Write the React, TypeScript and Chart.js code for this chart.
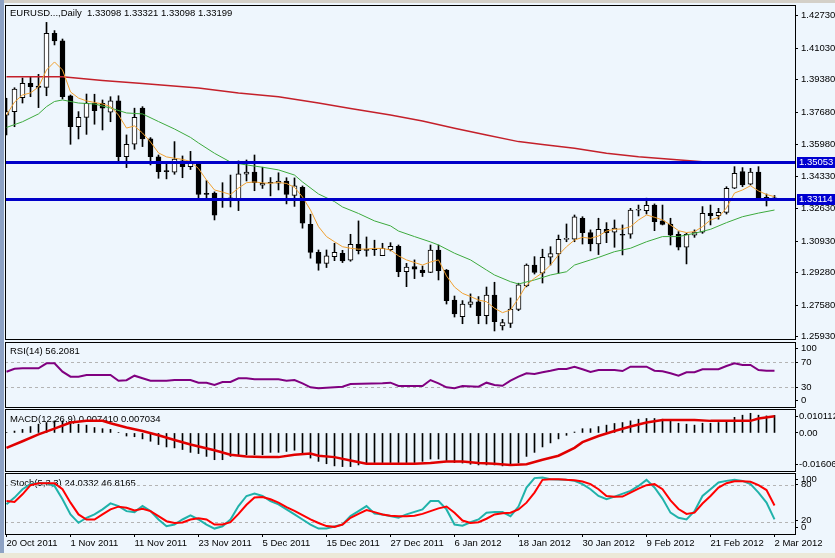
import React, { useEffect, useRef } from 'react';
import { Chart, registerables } from 'chart.js';

Chart.register(...registerables);

const FONT = '"Liberation Sans", Arial, sans-serif';
const FS = 9.5;
const BG = '#EEF6FD';

// ---------- categories / ticks ----------
const xTickIdx = [0, 8, 16, 24, 32, 40, 48, 56, 64, 72, 80, 88, 96];
const xLabels = ['20 Oct 2011', '1 Nov 2011', '11 Nov 2011', '23 Nov 2011', '5 Dec 2011', '15 Dec 2011', '27 Dec 2011', '6 Jan 2012', '18 Jan 2012', '30 Jan 2012', '9 Feb 2012', '21 Feb 2012', '2 Mar 2012'];
const priceTicks = [1.4273, 1.4103, 1.3938, 1.3768, 1.3598, 1.3433, 1.3263, 1.3093, 1.2928, 1.2758, 1.2593];
const rsiTickAt = [92.7, 70, 30, 7.9];
const rsiTickLabels = ['100', '70', '30', '0'];
const macdTickAt = [0.00686, 0, -0.01323];
const macdTickLabels = ['0.010112', '0.00', '-0.01606'];
const stochTickAt = [88.8, 81.7, 21.7, 11.2];
const stochTickLabels = ['100', '80', '20', '0'];

// ---------- price series (one value per daily bar) ----------
const opens = [1.3753, 1.3771, 1.3844, 1.3919, 1.3905, 1.3898, 1.4181, 1.4141, 1.3853, 1.3692, 1.3741, 1.3815, 1.3815, 1.3768, 1.3827, 1.3535, 1.3600, 1.3789, 1.3628, 1.3535, 1.3462, 1.3454, 1.3513, 1.3483, 1.3501, 1.3344, 1.3345, 1.3309, 1.3318, 1.3312, 1.3443, 1.3454, 1.3386, 1.3400, 1.3396, 1.3407, 1.3332, 1.3375, 1.3181, 1.3035, 1.2977, 1.3012, 1.3030, 1.2993, 1.3077, 1.3049, 1.3050, 1.3017, 1.3048, 1.3066, 1.2934, 1.2960, 1.2942, 1.2930, 1.3047, 1.2942, 1.2785, 1.2698, 1.2762, 1.2776, 1.2703, 1.2811, 1.2649, 1.2663, 1.2736, 1.2859, 1.2968, 1.2925, 1.3009, 1.3026, 1.3102, 1.3103, 1.3213, 1.3138, 1.3078, 1.3155, 1.3140, 1.3127, 1.3129, 1.3255, 1.3253, 1.3282, 1.3199, 1.3183, 1.3129, 1.3061, 1.3125, 1.3140, 1.3239, 1.3226, 1.3244, 1.3370, 1.3457, 1.3391, 1.3454, 1.3323, 1.33098];
const highs = [1.3841, 1.3896, 1.3947, 1.3954, 1.3966, 1.4238, 1.4195, 1.4151, 1.3858, 1.3771, 1.3863, 1.3862, 1.3832, 1.3849, 1.3854, 1.3649, 1.3789, 1.3797, 1.3635, 1.3544, 1.3509, 1.3614, 1.3539, 1.3563, 1.3504, 1.3410, 1.3351, 1.3399, 1.3439, 1.3513, 1.3518, 1.3544, 1.3480, 1.3426, 1.3451, 1.3425, 1.3424, 1.3382, 1.3234, 1.3047, 1.3047, 1.3082, 1.3045, 1.3129, 1.3199, 1.3115, 1.3098, 1.3082, 1.3085, 1.3073, 1.2977, 1.2995, 1.2963, 1.3073, 1.3073, 1.2945, 1.2806, 1.2782, 1.2817, 1.2803, 1.2853, 1.2878, 1.2684, 1.2796, 1.2873, 1.2974, 1.3012, 1.3051, 1.3064, 1.3125, 1.3183, 1.3230, 1.3221, 1.3152, 1.3213, 1.3190, 1.3204, 1.3178, 1.3265, 1.3282, 1.3318, 1.3288, 1.3282, 1.3213, 1.3143, 1.3134, 1.3152, 1.3274, 1.3282, 1.3265, 1.3378, 1.3483, 1.3478, 1.3474, 1.3483, 1.3340, 1.33321];
const lows = [1.3649, 1.3692, 1.3816, 1.3849, 1.3792, 1.3854, 1.4120, 1.3837, 1.3600, 1.3628, 1.3652, 1.3705, 1.3675, 1.3718, 1.3514, 1.3478, 1.3574, 1.3588, 1.3492, 1.3422, 1.3419, 1.3443, 1.3425, 1.3468, 1.3312, 1.3312, 1.3204, 1.3270, 1.3272, 1.3253, 1.3408, 1.3357, 1.3369, 1.3330, 1.3361, 1.3288, 1.3275, 1.3161, 1.3004, 1.2941, 1.2955, 1.2991, 1.2981, 1.2988, 1.3026, 1.3014, 1.3018, 1.3017, 1.3042, 1.2907, 1.2855, 1.2897, 1.2908, 1.2928, 1.2890, 1.2764, 1.2696, 1.2661, 1.2747, 1.2661, 1.2660, 1.2623, 1.2628, 1.2641, 1.2729, 1.2854, 1.2921, 1.2874, 1.2968, 1.2925, 1.3090, 1.3090, 1.3078, 1.3042, 1.3023, 1.3085, 1.3061, 1.3021, 1.3108, 1.3225, 1.3235, 1.3148, 1.3178, 1.3073, 1.3047, 1.2974, 1.3113, 1.3134, 1.3178, 1.3208, 1.3235, 1.3368, 1.3378, 1.3387, 1.3312, 1.3277, 1.33098];
const closes = [1.3771, 1.3889, 1.3919, 1.3902, 1.3898, 1.4181, 1.4141, 1.3849, 1.3692, 1.3741, 1.3815, 1.3776, 1.3789, 1.3827, 1.3535, 1.3600, 1.3741, 1.3628, 1.3535, 1.3457, 1.3457, 1.3523, 1.3483, 1.3501, 1.3338, 1.3338, 1.3229, 1.3318, 1.3314, 1.3445, 1.3454, 1.3399, 1.3396, 1.3396, 1.3408, 1.3338, 1.3382, 1.3187, 1.3034, 1.2977, 1.3016, 1.3035, 1.2989, 1.3077, 1.3043, 1.3045, 1.3048, 1.3056, 1.3066, 1.2933, 1.2958, 1.2946, 1.2928, 1.3047, 1.2939, 1.2782, 1.2712, 1.2764, 1.2775, 1.2703, 1.2811, 1.2672, 1.2667, 1.2737, 1.2864, 1.2968, 1.2930, 1.3009, 1.3028, 1.3103, 1.3105, 1.3220, 1.3138, 1.3078, 1.3155, 1.3138, 1.3161, 1.3124, 1.3256, 1.3258, 1.3281, 1.3195, 1.3181, 1.3125, 1.3061, 1.3129, 1.3140, 1.3239, 1.3226, 1.3244, 1.3370, 1.3448, 1.3387, 1.3454, 1.3314, 1.3309, 1.33199];

// orange fast MA, one value per bar
const maFast = [1.3753, 1.3821, 1.3858, 1.3869, 1.3900, 1.3989, 1.4031, 1.3989, 1.3874, 1.3842, 1.3827, 1.3819, 1.3811, 1.3798, 1.3753, 1.3685, 1.3696, 1.3659, 1.3612, 1.3555, 1.3534, 1.3527, 1.3521, 1.3510, 1.3473, 1.3413, 1.3361, 1.3350, 1.3337, 1.3371, 1.3399, 1.3403, 1.3398, 1.3396, 1.3400, 1.3395, 1.3375, 1.3324, 1.3256, 1.3169, 1.3117, 1.3090, 1.3064, 1.3056, 1.3051, 1.3052, 1.3055, 1.3055, 1.3047, 1.3016, 1.2995, 1.2981, 1.2968, 1.2984, 1.2995, 1.2911, 1.2853, 1.2820, 1.2803, 1.2785, 1.2776, 1.2742, 1.2719, 1.2733, 1.2794, 1.2864, 1.2899, 1.2928, 1.2968, 1.3021, 1.3064, 1.3099, 1.3113, 1.3108, 1.3120, 1.3146, 1.3155, 1.3157, 1.3169, 1.3204, 1.3230, 1.3218, 1.3204, 1.3178, 1.3148, 1.3138, 1.3143, 1.3169, 1.3204, 1.3218, 1.3267, 1.3345, 1.3361, 1.3383, 1.3356, 1.3337, 1.3326];

// green MA, read at [bar, value]
const maMid: [number, number][] = [[0, 1.3688], [2, 1.3718], [4, 1.3759], [5, 1.3797], [6, 1.3824], [7, 1.3832], [9, 1.3816], [11, 1.3811], [13, 1.3790], [15, 1.3764], [17, 1.3759], [19, 1.3719], [21, 1.3680], [23, 1.3636], [24, 1.3607], [26, 1.3553], [28, 1.3507], [30, 1.3492], [32, 1.3480], [34, 1.3466], [36, 1.3439], [37, 1.3403], [39, 1.3340], [41, 1.3300], [42, 1.3272], [44, 1.3238], [46, 1.3199], [48, 1.3173], [49, 1.3146], [51, 1.3117], [53, 1.3089], [54, 1.3073], [56, 1.3030], [58, 1.2995], [60, 1.2942], [61, 1.2916], [63, 1.2881], [64, 1.2869], [66, 1.2890], [68, 1.2916], [70, 1.2933], [71, 1.2968], [73, 1.2995], [74, 1.3008], [76, 1.3038], [78, 1.3056], [80, 1.3090], [82, 1.3117], [84, 1.3117], [86, 1.3134], [88, 1.3155], [90, 1.3190], [92, 1.3221], [94, 1.3240], [96, 1.3256]];

// red slow MA, read at [bar, value]
const maSlow: [number, number][] = [[0, 1.3954], [7, 1.3954], [12, 1.3934], [17, 1.3918], [24, 1.3895], [29, 1.3869], [34, 1.3849], [39, 1.3816], [43, 1.3787], [48, 1.3753], [52, 1.3722], [56, 1.3684], [60, 1.3649], [64, 1.3614], [67, 1.3599], [71, 1.3579], [75, 1.3553], [79, 1.3535], [83, 1.3522], [87, 1.3509], [90, 1.3506], [96, 1.3501]];

// horizontal levels
const levels = [1.35053, 1.33114];

// RSI(14), read at [bar, value]
const rsi: [number, number][] = [[0, 54.8], [1, 59.5], [2, 60.3], [4, 60.3], [5, 68.4], [6, 68.4], [7, 54.8], [8, 46.7], [9, 46.7], [10, 49.4], [13, 49.4], [14, 40.2], [15, 41], [16, 48.3], [17, 44.1], [18, 40.2], [20, 40.2], [21, 41.3], [23, 41.3], [24, 37], [25, 37], [26, 33.2], [27, 38.1], [28, 38.1], [29, 44.1], [30, 44.1], [31, 42.5], [34, 42.5], [35, 40.2], [36, 41.3], [37, 36], [38, 29.5], [39, 27.9], [40, 28.8], [42, 30.5], [43, 34.8], [47, 36], [48, 37], [49, 31.6], [52, 31.6], [53, 41.3], [54, 36], [55, 29.5], [56, 27.9], [57, 31.6], [59, 30.5], [60, 37], [61, 33.2], [62, 32], [63, 40.2], [64, 46.7], [65, 52.2], [66, 51.1], [67, 54], [68, 56.4], [69, 59.2], [70, 59.2], [71, 62.9], [72, 58.7], [73, 54.3], [74, 57.5], [76, 57.5], [77, 55.9], [78, 62.9], [80, 62.9], [81, 56.4], [82, 55.4], [83, 52.2], [84, 48.3], [85, 53.8], [86, 53.8], [87, 58.7], [89, 58.7], [90, 64], [91, 68.4], [92, 65.6], [93, 65.6], [94, 57.5], [95, 56.4], [96, 56.2081]];
const rsiLevels = [70, 30];

// MACD(12,26,9) histogram, one value per bar
const macdMain = [0.0002, 0.0008, 0.0015, 0.0027, 0.0037, 0.0044, 0.0051, 0.0051, 0.0047, 0.0037, 0.0033, 0.0023, 0.0018, 0.0015, 0.0002, -0.0013, -0.0016, -0.0025, -0.0035, -0.0049, -0.0059, -0.0063, -0.0070, -0.0082, -0.0087, -0.0099, -0.0113, -0.0113, -0.0099, -0.0096, -0.0092, -0.0092, -0.0092, -0.0082, -0.0082, -0.0078, -0.0073, -0.0087, -0.0106, -0.0120, -0.0130, -0.0139, -0.0142, -0.0142, -0.0135, -0.0127, -0.0125, -0.0125, -0.0125, -0.0125, -0.0125, -0.0125, -0.0120, -0.0110, -0.0110, -0.0116, -0.0125, -0.0127, -0.0132, -0.0135, -0.0135, -0.0135, -0.0139, -0.0135, -0.0127, -0.0099, -0.0082, -0.0059, -0.0042, -0.0025, -0.0010, 0.0004, 0.0018, 0.0018, 0.0027, 0.0033, 0.0040, 0.0044, 0.0051, 0.0058, 0.0061, 0.0061, 0.0058, 0.0051, 0.0041, 0.0037, 0.0033, 0.0041, 0.0041, 0.0044, 0.0051, 0.0066, 0.0075, 0.0083, 0.0075, 0.0072, 0.00741];
// MACD signal, read at [bar, value]
const macdSignal: [number, number][] = [[0, -0.0063], [2, -0.0035], [4, -0.0006], [6, 0.0018], [8, 0.0044], [10, 0.0051], [12, 0.0051], [13, 0.0041], [15, 0.0023], [17, 0.0008], [19, -0.0010], [21, -0.0030], [23, -0.0049], [26, -0.0073], [28, -0.0092], [30, -0.0099], [32, -0.0102], [34, -0.0102], [36, -0.0092], [38, -0.0087], [39, -0.0096], [41, -0.0102], [43, -0.0116], [45, -0.0130], [48, -0.0130], [51, -0.0130], [53, -0.0127], [55, -0.0120], [57, -0.0120], [59, -0.0127], [61, -0.0130], [63, -0.0135], [65, -0.0132], [67, -0.0113], [69, -0.0096], [71, -0.0063], [72, -0.0039], [74, -0.0013], [76, 0.0008], [78, 0.0027], [80, 0.0044], [82, 0.0055], [86, 0.0055], [88, 0.0051], [93, 0.0051], [94, 0.0061], [96, 0.007034]];

// Stochastic(5,3,3), read at [bar, value]
const stochMain: [number, number][] = [[0, 48.6], [1, 59.7], [2, 73.4], [3, 81.7], [4, 83.3], [5, 83.3], [6, 78.8], [7, 56.9], [8, 32.1], [9, 18.3], [10, 26.6], [11, 32.1], [12, 40.3], [13, 50.2], [14, 45.8], [15, 37.5], [16, 35.9], [17, 45.8], [18, 37.5], [19, 23.8], [20, 12.7], [21, 15.5], [22, 23.8], [23, 30.4], [24, 23.8], [25, 15.5], [26, 8.9], [27, 12.7], [28, 23.8], [29, 45.8], [30, 62.3], [31, 66.3], [32, 62.3], [33, 54], [34, 48.6], [35, 40.3], [36, 32.1], [37, 23.8], [38, 15.5], [39, 8.9], [40, 8.9], [42, 15.5], [43, 29.3], [44, 37.5], [45, 45.8], [46, 33.7], [47, 32.1], [49, 26.6], [50, 32.1], [52, 40.3], [53, 54], [54, 54], [55, 40.3], [56, 15.5], [57, 13.5], [58, 19.3], [59, 23.8], [60, 34.9], [61, 35.9], [62, 35.9], [63, 29.3], [64, 45], [65, 76.2], [66, 91.6], [67, 92.7], [68, 89.9], [70, 88.8], [71, 87.1], [72, 81.7], [73, 73.4], [74, 62.3], [75, 56.9], [76, 61.3], [78, 70.6], [79, 78.8], [80, 88.8], [81, 76.2], [82, 58], [83, 35], [84, 26.6], [85, 23.8], [86, 37.5], [87, 62.3], [88, 73.4], [89, 84.5], [90, 87.1], [91, 88.8], [92, 87.1], [93, 81.7], [94, 67.9], [95, 51.4], [96, 24.0332]];
const stochSignal: [number, number][] = [[0, 54], [1, 52.4], [2, 65.1], [3, 80], [4, 83.3], [5, 83.3], [6, 83.3], [7, 73.4], [8, 51.4], [9, 32.1], [10, 23.8], [11, 23.8], [12, 32.1], [13, 40.3], [14, 44.8], [15, 43.1], [16, 38.7], [17, 41.5], [18, 37.5], [19, 29.3], [20, 21], [21, 18], [22, 19], [23, 23.8], [24, 26], [25, 23.8], [26, 15.5], [27, 15.5], [28, 19.3], [29, 33], [30, 48], [31, 59.7], [32, 60.7], [33, 56.9], [34, 51.4], [35, 44], [36, 38], [37, 31], [38, 24], [39, 18], [40, 13], [41, 11.7], [42, 15.5], [43, 26.6], [44, 33], [45, 39.2], [46, 35.9], [47, 32], [48, 30], [49, 29.3], [50, 29.3], [51, 30], [52, 33], [53, 37.5], [54, 42], [55, 45], [56, 34.9], [57, 22], [58, 18], [59, 19.3], [60, 25], [61, 32.1], [62, 34], [63, 34.9], [64, 40.3], [65, 51.4], [66, 67.9], [67, 88.8], [68, 89.9], [69, 89.9], [70, 88.8], [71, 88], [72, 86], [73, 81.7], [74, 73.4], [75, 62.3], [76, 61], [77, 61.3], [78, 67.9], [79, 74.5], [80, 80], [81, 81.7], [82, 73.4], [83, 55], [84, 41], [85, 33], [86, 35], [87, 50], [88, 62.3], [89, 76], [90, 83.3], [91, 86.6], [92, 86.6], [93, 85.5], [94, 80], [95, 72], [96, 46.8165]];
const stochLevels = [80, 20];

// ---------- panel captions ----------
const mainTitle = 'EURUSD...,Daily  1.33098 1.33321 1.33098 1.33199';
const rsiTitle = 'RSI(14) 56.2081';
const macdTitle = 'MACD(12,26,9) 0.007410 0.007034';
const stochTitle = 'Stoch(5,3,3) 24.0332 46.8165';

// ---------- helpers ----------
const XMIN = -0.1875;
const XMAX = 98.5625;
const font = { family: FONT, size: FS };

const pairs = (arr: [number, number][]) => arr.map(([x, y]) => ({ x, y }));

function xAxis(show: boolean): any {
  return {
    type: 'linear',
    min: XMIN,
    max: XMAX,
    offset: false,
    display: show,
    afterBuildTicks: (s: any) => { s.ticks = xTickIdx.map((v) => ({ value: v })); },
    afterFit: (s: any) => { if (show) s.height = 19; s.paddingLeft = 0; s.paddingRight = 0; },
    ticks: { autoSkip: false, maxRotation: 0, minRotation: 0, align: 'start', padding: 1, color: '#000', font, callback: (_v: any, i: number) => xLabels[i] },
    grid: { drawOnChartArea: false, drawTicks: true, tickLength: 3, color: '#000' },
    border: { display: false },
  };
}

function yAxis(min: number, max: number, at: number[], label: (v: number, i: number) => string, pad = 3): any {
  return {
    type: 'linear',
    position: 'right',
    min,
    max,
    afterBuildTicks: (s: any) => { s.ticks = at.map((v) => ({ value: v })); },
    afterFit: (s: any) => { s.width = 40; s.paddingTop = 0; s.paddingBottom = 0; },
    ticks: { autoSkip: false, padding: pad, color: '#000', font, callback: (v: any, i: number) => label(Number(v), i) },
    grid: { drawOnChartArea: false, drawTicks: true, tickLength: 3, color: '#000' },
    border: { display: false },
  };
}

function decor(cfg: { title: string; titleDy: number; dashed?: number[]; solid?: number[]; boxes?: number[] }): any {
  return {
    id: 'decor',
    beforeDatasetsDraw(chart: any) {
      const { ctx, chartArea: a } = chart;
      const y = chart.scales.y;
      ctx.save();
      ctx.font = `${FS}px ${FONT}`;
      ctx.fillStyle = '#000';
      ctx.textBaseline = 'middle';
      ctx.textAlign = 'left';
      ctx.fillText(cfg.title, a.left + 5, a.top + cfg.titleDy);
      (cfg.dashed || []).forEach((v) => {
        const py = Math.round(y.getPixelForValue(v)) + 0.5;
        ctx.strokeStyle = '#B4B4B4';
        ctx.lineWidth = 1;
        ctx.setLineDash([3, 3]);
        ctx.beginPath();
        ctx.moveTo(a.left, py);
        ctx.lineTo(a.right, py);
        ctx.stroke();
      });
      ctx.restore();
    },
    afterDatasetsDraw(chart: any) {
      const { ctx, chartArea: a } = chart;
      const y = chart.scales.y;
      ctx.save();
      (cfg.solid || []).forEach((v) => {
        const py = Math.round(y.getPixelForValue(v)) + 0.5;
        ctx.strokeStyle = '#0000C8';
        ctx.lineWidth = 3;
        ctx.beginPath();
        ctx.moveTo(a.left, py);
        ctx.lineTo(a.right, py);
        ctx.stroke();
      });
      ctx.restore();
    },
    afterDraw(chart: any) {
      const { ctx, chartArea: a } = chart;
      const y = chart.scales.y;
      ctx.save();
      ctx.strokeStyle = '#000';
      ctx.lineWidth = 1;
      ctx.strokeRect(a.left + 0.5, a.top + 0.5, a.right - a.left, a.bottom - a.top);
      (cfg.boxes || []).forEach((v) => {
        const py = Math.round(y.getPixelForValue(v));
        ctx.fillStyle = '#0000D0';
        ctx.fillRect(a.right + 2, py - 5, 40, 11);
        ctx.fillStyle = '#FFF';
        ctx.font = `${FS}px ${FONT}`;
        ctx.textBaseline = 'middle';
        ctx.textAlign = 'left';
        ctx.fillText(v.toFixed(5), a.right + 4, py + 0.5);
      });
      ctx.restore();
    },
  };
}

const baseOpts = (padding: any) => ({
  responsive: false,
  animation: false as const,
  devicePixelRatio: 1,
  events: [] as any[],
  layout: { padding },
  plugins: { legend: { display: false }, tooltip: { enabled: false } },
});

const line = (data: any[], color: string, width: number, order = 0): any => ({
  type: 'line',
  data,
  borderColor: color,
  borderWidth: width,
  pointRadius: 0,
  tension: 0,
  fill: false,
  order,
});

export default function App() {
  const mainRef = useRef<HTMLCanvasElement>(null);
  const rsiRef = useRef<HTMLCanvasElement>(null);
  const macdRef = useRef<HTMLCanvasElement>(null);
  const stochRef = useRef<HTMLCanvasElement>(null);

  useEffect(() => {
    const charts: Chart[] = [];

    charts.push(new Chart(mainRef.current!, {
      type: 'bar',
      data: {
        datasets: [
          {
            type: 'bar',
            data: opens.map((_, i) => ({ x: i, y: [lows[i], highs[i]] })),
            backgroundColor: '#000',
            barThickness: 1,
            grouped: false,
            order: 3,
          } as any,
          {
            type: 'bar',
            data: opens.map((o, i) => ({ x: i, y: [o, closes[i]] })),
            backgroundColor: opens.map((o, i) => (closes[i] >= o ? '#FFFFFF' : '#000000')),
            borderColor: '#000',
            borderWidth: 1,
            borderSkipped: false,
            barThickness: 5,
            minBarLength: 1,
            grouped: false,
            order: 2,
          } as any,
          line(pairs(maSlow), '#C4202A', 1.5, 1),
          line(pairs(maMid), '#3DAA3D', 1, 1),
          line(maFast.map((v, i) => ({ x: i, y: v })), '#F0A030', 1, 0),
        ],
      },
      options: {
        ...baseOpts({ left: 5, right: 0, top: 5, bottom: 1 }),
        scales: {
          x: xAxis(false),
          y: yAxis(1.2581, 1.4329, priceTicks, (v) => v.toFixed(5)),
        },
      } as any,
      plugins: [decor({ title: mainTitle, titleDy: 8.5, solid: levels, boxes: levels })],
    }));

    charts.push(new Chart(rsiRef.current!, {
      type: 'line',
      data: { datasets: [line(pairs(rsi), '#800080', 2)] },
      options: {
        ...baseOpts({ left: 5, right: 0, top: 2, bottom: 1 }),
        scales: {
          x: xAxis(false),
          y: yAxis(-2.4, 102.9, rsiTickAt, (_v, i) => rsiTickLabels[i]),
        },
      } as any,
      plugins: [decor({ title: rsiTitle, titleDy: 9.5, dashed: rsiLevels })],
    }));

    charts.push(new Chart(macdRef.current!, {
      type: 'bar',
      data: {
        datasets: [
          {
            type: 'bar',
            data: macdMain.map((v, i) => ({ x: i, y: v })),
            backgroundColor: '#000',
            barThickness: 1,
            grouped: false,
            order: 2,
          } as any,
          line(pairs(macdSignal), '#E00000', 2.5, 0),
        ],
      },
      options: {
        ...baseOpts({ left: 5, right: 0, top: 1, bottom: 1 }),
        scales: {
          x: xAxis(false),
          y: yAxis(-0.01606, 0.010112, macdTickAt, (_v, i) => macdTickLabels[i], 1),
        },
      } as any,
      plugins: [decor({ title: macdTitle, titleDy: 10.5 })],
    }));

    charts.push(new Chart(stochRef.current!, {
      type: 'line',
      data: {
        datasets: [
          line(pairs(stochMain), '#20B2AA', 2, 1),
          line(pairs(stochSignal), '#FF0000', 2, 0),
        ],
      },
      options: {
        ...baseOpts({ left: 5, right: 0, top: 1, bottom: 0 }),
        scales: {
          x: xAxis(true),
          y: yAxis(0, 100, stochTickAt, (_v, i) => stochTickLabels[i]),
        },
      } as any,
      plugins: [decor({ title: stochTitle, titleDy: 10.5, dashed: stochLevels })],
    }));

    return () => charts.forEach((c) => c.destroy());
  }, []);

  const abs = (top: number): React.CSSProperties => ({ position: 'absolute', left: 0, top });

  return (
    <div style={{ position: 'fixed', left: 0, top: 0, width: 835, height: 558, background: BG, overflow: 'hidden' }}>
      <div style={{ position: 'absolute', left: 0, top: 0, width: 835, height: 3, background: '#D4D0C8' }} />
      <div style={{ position: 'absolute', left: 0, top: 0, width: 4, height: 558, background: '#8DA2C4' }} />
      <div style={{ position: 'absolute', left: 0, top: 553, width: 835, height: 5, background: '#ECE9D8' }} />
      <canvas ref={mainRef} width={835} height={340} style={abs(0)} />
      <canvas ref={rsiRef} width={835} height={68} style={abs(340)} />
      <canvas ref={macdRef} width={835} height={64} style={abs(408)} />
      <canvas ref={stochRef} width={835} height={81} style={abs(472)} />
    </div>
  );
}
